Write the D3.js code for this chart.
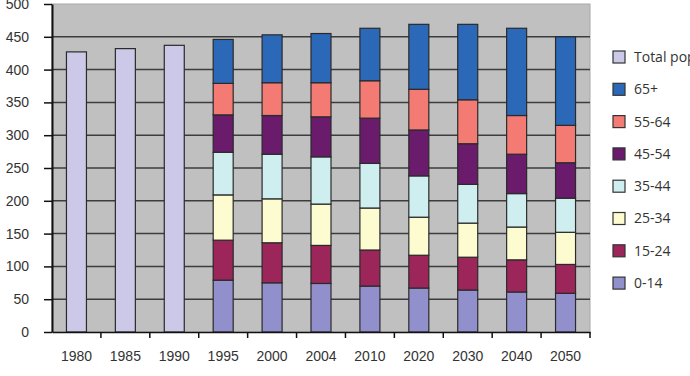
<!DOCTYPE html>
<html>
<head>
<meta charset="utf-8">
<script src="https://cdn.jsdelivr.net/npm/d3@7"></script>
<style>
  body { margin: 0; background: #fff; }
  svg { display: block; font-family: "Open Sans", sans-serif; }
</style>
</head>
<body>
<svg width="690" height="376"></svg>
<script>
// categories
const years = ['1980', '1985', '1990', '1995', '2000', '2004', '2010', '2020', '2030', '2040', '2050'];
const totalYears = ['1980', '1985', '1990'];
const totalPop = [427, 432, 437];

// age group series for 1995..2050 (bottom to top)
const ageYears = ['1995', '2000', '2004', '2010', '2020', '2030', '2040', '2050'];
const age0_14  = [79, 75, 74, 70, 67, 64, 61, 59];
const age15_24 = [61, 61, 58, 55, 50, 50, 49, 44];
const age25_34 = [69, 67, 63, 64, 58, 52, 50, 49];
const age35_44 = [65, 68, 72, 68, 63, 59, 51, 52];
const age45_54 = [57, 59, 61, 69, 70, 62, 60, 54];
const age55_64 = [48, 50, 52, 57, 62, 67, 59, 57];
const age65p   = [67, 73, 75, 80, 99, 115, 133, 135];

const groupNames = ['0-14', '15-24', '25-34', '35-44', '45-54', '55-64', '65+'];
const yTicks = [0, 50, 100, 150, 200, 250, 300, 350, 400, 450, 500];

const colors = {
  'Total population': '#cbc8e8',
  '65+': '#2b68b8',
  '55-64': '#f47b74',
  '45-54': '#6a1b6b',
  '35-44': '#cfeef0',
  '25-34': '#fdfbd0',
  '15-24': '#9c2659',
  '0-14': '#9290cc'
};

const svg = d3.select('svg');
const plotL = 52, plotR = 590, plotT = 4, plotB = 332;

const x = d3.scaleBand().domain(years).range([plotL, plotR]);
const y = d3.scaleLinear().domain([0, 500]).range([plotB, plotT]);
const barW = 20;
const barX = d => x(d) + (x.bandwidth() - barW) / 2;

// plot background
svg.append('rect')
  .attr('x', plotL).attr('y', plotT)
  .attr('width', plotR - plotL).attr('height', plotB - plotT)
  .attr('fill', '#c0c0c0')
  .attr('stroke', '#a8a8a8')
  .attr('stroke-width', 1);

// gridlines
svg.append('g')
  .selectAll('line')
  .data(yTicks.filter(t => t > 0 && t < 500))
  .join('line')
  .attr('x1', plotL).attr('x2', plotR)
  .attr('y1', d => y(d)).attr('y2', d => y(d))
  .attr('stroke', '#3c3c3c')
  .attr('stroke-width', 1.5);

// total population bars
svg.append('g')
  .selectAll('rect')
  .data(totalYears.map((yr, i) => ({ yr, v: totalPop[i] })))
  .join('rect')
  .attr('x', d => barX(d.yr))
  .attr('y', d => y(d.v))
  .attr('width', barW)
  .attr('height', d => y(0) - y(d.v))
  .attr('fill', colors['Total population'])
  .attr('stroke', '#2a2a2a')
  .attr('stroke-width', 1.2);

// stacked age bars
const table = ageYears.map((yr, i) => ({
  yr,
  '0-14': age0_14[i],
  '15-24': age15_24[i],
  '25-34': age25_34[i],
  '35-44': age35_44[i],
  '45-54': age45_54[i],
  '55-64': age55_64[i],
  '65+': age65p[i]
}));
const stacked = d3.stack().keys(groupNames)(table);

svg.append('g')
  .selectAll('g')
  .data(stacked)
  .join('g')
  .attr('fill', s => colors[s.key])
  .selectAll('rect')
  .data(s => s)
  .join('rect')
  .attr('x', d => barX(d.data.yr))
  .attr('y', d => y(d[1]))
  .attr('width', barW)
  .attr('height', d => y(d[0]) - y(d[1]))
  .attr('stroke', '#2a2a2a')
  .attr('stroke-width', 1.2);

// y axis
const yAxis = svg.append('g')
  .attr('transform', `translate(${plotL},0)`)
  .call(d3.axisLeft(y).tickValues(yTicks).tickSizeInner(8).tickSizeOuter(0).tickPadding(15));
yAxis.select('.domain').attr('stroke', '#111').attr('stroke-width', 2);
yAxis.selectAll('line').attr('stroke', '#111').attr('stroke-width', 1.5);
yAxis.selectAll('text').attr('font-size', 14).attr('fill', '#333');

// x axis
const xAxis = svg.append('g')
  .attr('transform', `translate(0,${plotB})`)
  .call(d3.axisBottom(x).tickSize(0).tickPadding(19));
xAxis.select('.domain').attr('stroke', '#111').attr('stroke-width', 1.5);
xAxis.selectAll('text').attr('font-size', 14).attr('fill', '#333');

// boundary tick marks
svg.append('g')
  .selectAll('line')
  .data(years.slice(1).concat(['end']))
  .join('line')
  .attr('x1', d => d === 'end' ? plotR : x(d))
  .attr('x2', d => d === 'end' ? plotR : x(d))
  .attr('y1', plotB).attr('y2', plotB + 6)
  .attr('stroke', '#111')
  .attr('stroke-width', 1.5);

// legend
const legendItems = ['Total population', '65+', '55-64', '45-54', '35-44', '25-34', '15-24', '0-14'];
const legend = svg.append('g')
  .selectAll('g')
  .data(legendItems)
  .join('g')
  .attr('transform', (d, i) => `translate(613,${57 + i * 32.3})`);
legend.append('rect')
  .attr('x', 0).attr('y', -6)
  .attr('width', 12).attr('height', 12)
  .attr('fill', d => colors[d])
  .attr('stroke', '#333')
  .attr('stroke-width', 1.2);
legend.append('text')
  .attr('x', 21).attr('y', 0)
  .attr('dy', '0.35em')
  .attr('font-size', 14)
  .attr('fill', '#333')
  .text(d => d);
</script>
</body>
</html>
